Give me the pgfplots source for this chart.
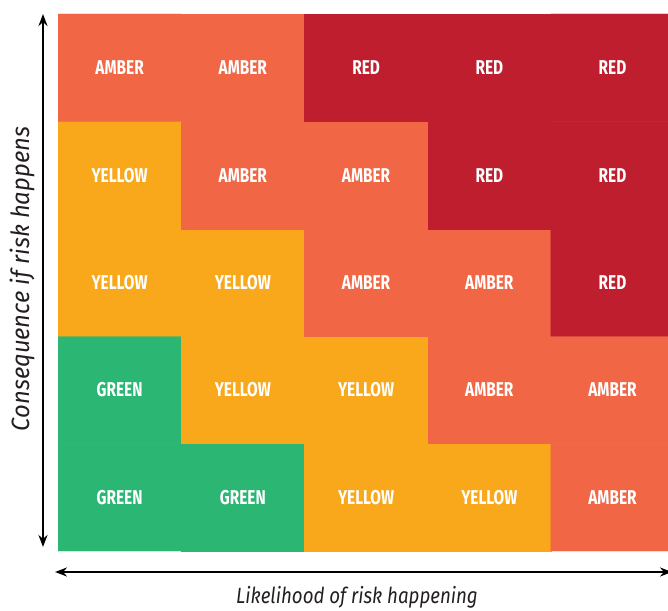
\documentclass[border=0pt]{standalone}
\usepackage{pgfplots}
\pgfplotsset{compat=1.18}
\usepackage{fontspec}
\setmainfont{Fira Sans}
\newfontfamily\cellfont[FakeStretch=0.77]{Fira Sans}
\newfontfamily\labfont[FakeStretch=0.85]{Fira Sans}
\newfontfamily\vlabfont[FakeStretch=0.95]{Fira Sans}
\usetikzlibrary{arrows.meta}
\definecolor{labtxt}{RGB}{35,31,32}
\pgfplotstableread{
x y c label
0.5 0.5 0 GREEN
1.5 0.5 0 GREEN
2.5 0.5 1 YELLOW
3.5 0.5 1 YELLOW
4.5 0.5 2 AMBER
0.5 1.5 0 GREEN
1.5 1.5 1 YELLOW
2.5 1.5 1 YELLOW
3.5 1.5 2 AMBER
4.5 1.5 2 AMBER
0.5 2.5 1 YELLOW
1.5 2.5 1 YELLOW
2.5 2.5 2 AMBER
3.5 2.5 2 AMBER
4.5 2.5 3 RED
0.5 3.5 1 YELLOW
1.5 3.5 2 AMBER
2.5 3.5 2 AMBER
3.5 3.5 3 RED
4.5 3.5 3 RED
0.5 4.5 2 AMBER
1.5 4.5 2 AMBER
2.5 4.5 3 RED
3.5 4.5 3 RED
4.5 4.5 3 RED
}\risk
\begin{document}
\begin{tikzpicture}
\useasboundingbox (0,0) rectangle (668pt,610pt);
\begin{axis}[
  at={(58pt,59pt)}, anchor=south west,
  width=610pt, height=537pt, scale only axis,
  xmin=0, xmax=4.95, ymin=0, ymax=5,
  hide axis,
  colormap={risk}{rgb255=(43,182,115) rgb255=(249,168,27) rgb255=(241,102,69) rgb255=(190,30,46)},
  colormap access=direct,
]
\addplot[matrix plot*, mesh/cols=5, point meta=explicit, draw=none] table[x=x, y=y, meta=c] {\risk};
\addplot[draw=none, mark=none, point meta=explicit symbolic,
  nodes near coords, nodes near coords align={center},
  every node near coord/.append style={font=\cellfont\bfseries\fontsize{20}{20}\selectfont, text=white, anchor=center}]
  table[x=x, y=y, meta=label] {\risk};
\end{axis}
\draw[line width=2pt, {Stealth[length=12pt,width=9pt]}-{Stealth[length=12pt,width=9pt]}] (43pt,63pt) -- (43pt,596pt);
\draw[line width=2pt, {Stealth[length=12pt,width=9pt]}-{Stealth[length=12pt,width=9pt]}] (55pt,38pt) -- (672pt,38pt);
\node[font=\labfont\itshape\fontsize{22}{22}\selectfont, text=labtxt, anchor=base] at (357pt,7pt) {Likelihood of risk happening};
\node[font=\vlabfont\itshape\fontsize{25}{25}\selectfont, text=labtxt, anchor=base, rotate=90] at (29pt,331pt) {Consequence if risk happens};
\end{tikzpicture}
\end{document}
